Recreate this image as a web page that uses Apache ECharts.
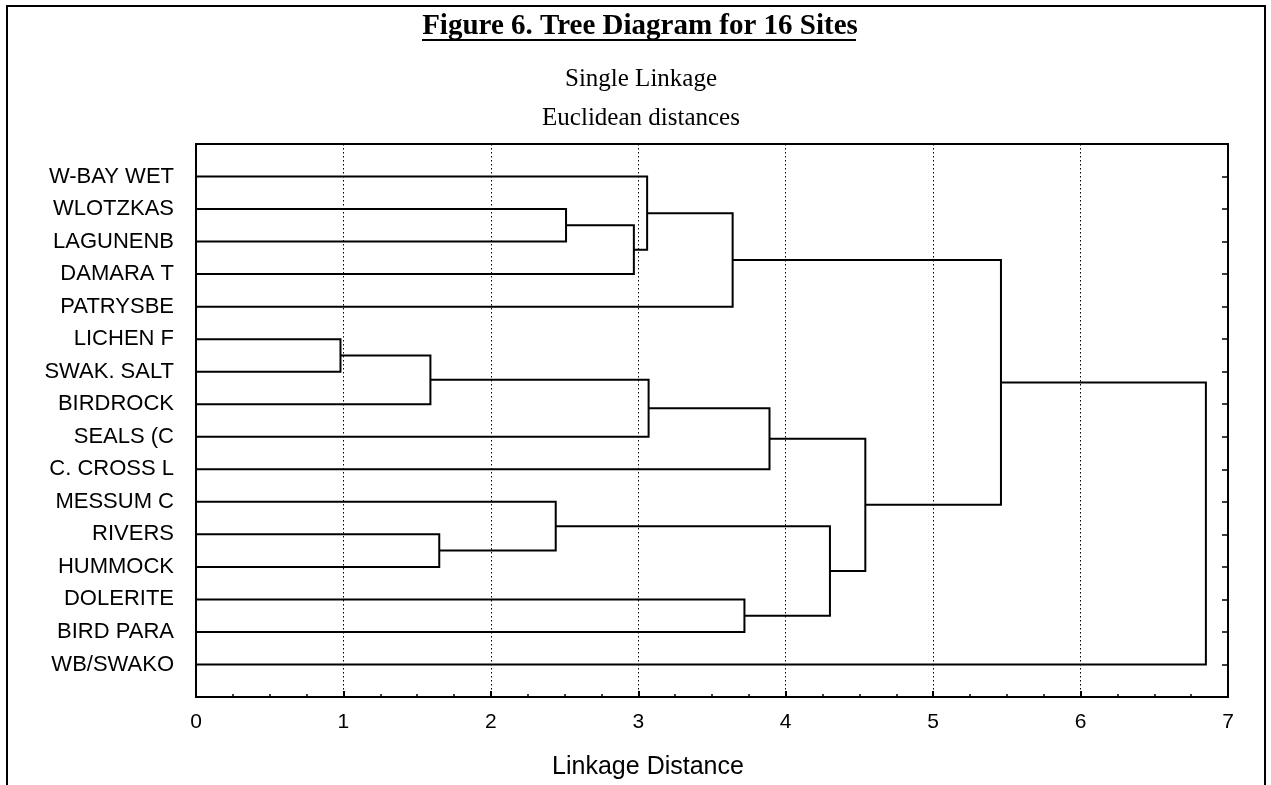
<!DOCTYPE html>
<html>
<head>
<meta charset="utf-8">
<script src="https://cdn.jsdelivr.net/npm/echarts@6/dist/echarts.min.js"></script>
<style>
  html, body { margin: 0; padding: 0; background: #fff; }
  #chart { width: 1271px; height: 785px; }
</style>
</head>
<body>
<div id="chart"></div>
<script>
// sites, top to bottom
const siteNames = ['W-BAY WET', 'WLOTZKAS', 'LAGUNENB', 'DAMARA T', 'PATRYSBE', 'LICHEN F', 'SWAK. SALT', 'BIRDROCK',
  'SEALS (C', 'C. CROSS L', 'MESSUM C', 'RIVERS', 'HUMMOCK', 'DOLERITE', 'BIRD PARA', 'WB/SWAKO']
// joins: node ids 0-15 are sites, each join makes a new node 16, 17, ...
const joinLeft = [5, 16, 11, 10, 1, 20, 0, 17, 22, 13, 23, 19, 26, 24, 29]
const joinRight = [6, 7, 12, 18, 2, 3, 21, 8, 4, 14, 9, 25, 27, 28, 15]
const joinDistance = [0.98, 1.59, 1.65, 2.44, 2.51, 2.97, 3.06, 3.07, 3.64, 3.72, 3.89, 4.30, 4.54, 5.46, 6.85]
const distanceTicks = [0, 1, 2, 3, 4, 5, 6, 7]

// position of every node: x = linkage distance, y = row (mean of its two children)
const nodeX = siteNames.map(() => 0)
const nodeY = siteNames.map((n, i) => i)
const links = []
joinDistance.forEach((d, i) => {
  const a = joinLeft[i]
  const b = joinRight[i]
  links.push([nodeX[a], nodeY[a], nodeX[b], nodeY[b], d])
  nodeX.push(d)
  nodeY.push((nodeY[a] + nodeY[b]) / 2)
})

const chart = echarts.init(document.getElementById('chart'))
chart.setOption({
  backgroundColor: '#fff',
  animation: false,
  title: [{
    text: 'Figure 6. Tree Diagram for 16 Sites',
    left: 635,
    top: 7,
    textAlign: 'center',
    textStyle: { fontFamily: 'Liberation Serif', fontWeight: 'bold', fontSize: 29, color: '#000' }
  }, {
    text: 'Single Linkage',
    left: 636,
    top: 62,
    textAlign: 'center',
    textStyle: { fontFamily: 'Liberation Serif', fontWeight: 'normal', fontSize: 25, color: '#000' }
  }, {
    text: 'Euclidean distances',
    left: 636,
    top: 101,
    textAlign: 'center',
    textStyle: { fontFamily: 'Liberation Serif', fontWeight: 'normal', fontSize: 25, color: '#000' }
  }, {
    text: 'Linkage Distance',
    left: 643,
    top: 750,
    textAlign: 'center',
    textStyle: { fontFamily: 'Liberation Sans', fontWeight: 'normal', fontSize: 25, color: '#000' }
  }],
  graphic: [{
    type: 'rect', // outer frame
    shape: { x: 7, y: 6, width: 1258, height: 800 },
    style: { fill: 'none', stroke: '#000', lineWidth: 2 },
    silent: true
  }, {
    type: 'line', // title underline
    shape: { x1: 422, y1: 40, x2: 856, y2: 40 },
    style: { stroke: '#000', lineWidth: 2 },
    silent: true
  }],
  grid: {
    left: 196,
    right: 43,
    top: 144,
    bottom: 88,
    show: true,
    borderColor: '#000',
    borderWidth: 2
  },
  xAxis: {
    type: 'value',
    min: distanceTicks[0],
    max: distanceTicks[distanceTicks.length - 1],
    interval: 1,
    axisLine: { show: true, onZero: false, lineStyle: { color: '#000', width: 2 } },
    axisTick: { show: true, inside: true, length: 6, lineStyle: { color: '#000', width: 2 } },
    minorTick: { show: true, splitNumber: 4, length: 3, lineStyle: { color: '#000', width: 1.5 } },
    axisLabel: {
      margin: 15,
      color: '#000',
      fontFamily: 'Liberation Sans',
      fontSize: 21,
      formatter: v => distanceTicks.indexOf(v) >= 0 ? String(v) : ''
    },
    splitLine: { show: true, lineStyle: { color: '#000', width: 1, type: [1.5, 2.5] } }
  },
  yAxis: [{
    type: 'value',
    inverse: true,
    min: -1,
    max: 16,
    interval: 1,
    axisLine: { show: true, onZero: false, lineStyle: { color: '#000', width: 2 } },
    axisTick: { show: false },
    splitLine: { show: false },
    axisLabel: {
      margin: 22,
      color: '#000',
      fontFamily: 'Liberation Sans',
      fontSize: 22,
      formatter: v => siteNames[v] || ''
    }
  }, {
    type: 'value',
    position: 'right',
    inverse: true,
    min: -1,
    max: 16,
    interval: 1,
    axisLine: { show: true, onZero: false, lineStyle: { color: '#000', width: 2 } },
    axisTick: { show: true, inside: true, length: 6, lineStyle: { color: '#000', width: 1.5 } },
    axisLabel: { show: false },
    splitLine: { show: false }
  }],
  series: [{
    type: 'custom',
    name: 'tree',
    data: links,
    renderItem(params, api) {
      const a = api.coord([api.value(0), api.value(1)])
      const h1 = api.coord([api.value(4), api.value(1)])
      const h2 = api.coord([api.value(4), api.value(3)])
      const b = api.coord([api.value(2), api.value(3)])
      return {
        type: 'polyline',
        shape: { points: [a, h1, h2, b] },
        style: { fill: 'none', stroke: '#000', lineWidth: 2 }
      }
    },
    encode: { x: [0, 2, 4], y: [1, 3] }
  }]
})
</script>
</body>
</html>
